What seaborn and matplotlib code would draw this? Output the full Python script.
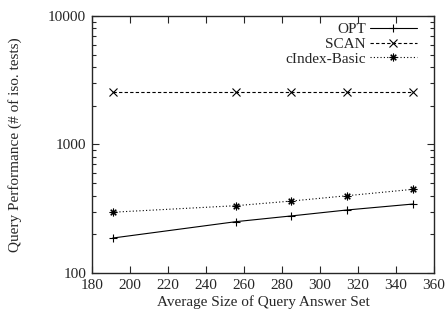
import numpy as np
import pandas as pd
import seaborn as sns
import matplotlib.pyplot as plt
from matplotlib.ticker import FixedLocator, FixedFormatter, LogLocator, NullFormatter

# data
answer_size = [191, 256, 285, 314, 349]
opt = [187, 251, 278, 309, 344]
scan = [2560, 2560, 2560, 2560, 2560]
cindex_basic = [297, 334, 363, 399, 448]

sns.set_style('ticks')
plt.rcParams['font.family'] = ['Liberation Serif', 'DejaVu Serif']
plt.rcParams['font.size'] = 11

fig = plt.figure(figsize=(4.48, 3.2), dpi=100)
ax = fig.add_axes([0.205, 0.147, 0.764, 0.803])

series = [
    ('OPT', opt, '-', '+'),
    ('SCAN', scan, (0, (3, 2)), 'x'),
    ('cIndex-Basic', cindex_basic, (0, (1, 2)), (8, 2, 0)),
]
for name, vals, ls, mk in series:
    df = pd.DataFrame({'x': answer_size, 'y': vals})
    sns.lineplot(data=df, x='x', y='y', ax=ax, color='black', linewidth=0.8,
                 linestyle=ls, marker=mk, markersize=5.5, markeredgewidth=0.8,
                 markeredgecolor='black', label=name)

ax.set_yscale('log')
ax.set_xlim(180, 360)
ax.set_ylim(100, 10000)
ax.xaxis.set_major_locator(FixedLocator(np.arange(180, 361, 20)))
ax.yaxis.set_major_locator(FixedLocator([100, 1000, 10000]))
ax.yaxis.set_major_formatter(FixedFormatter(['100', '1000', '10000']))
ax.yaxis.set_minor_locator(LogLocator(base=10, subs=np.arange(2, 10)))
ax.yaxis.set_minor_formatter(NullFormatter())
ax.tick_params(which='both', direction='in', top=True, right=True, width=0.8)
ax.tick_params(which='major', length=5, pad=4)
ax.tick_params(which='minor', length=3)
for s in ax.spines.values():
    s.set_linewidth(1.0)

ax.set_xlabel('Average Size of Query Answer Set', labelpad=3)
ax.set_ylabel('Query Performance (# of iso. tests)', labelpad=19)

leg = ax.legend(loc='upper right', bbox_to_anchor=(0.95, 0.974), frameon=False,
                markerfirst=False, handlelength=3.08, labelspacing=0.06,
                borderaxespad=0, borderpad=0, handletextpad=0.26)
# right-align the legend rows like gnuplot
for col in leg._legend_box.get_children()[1].get_children():
    col.align = 'right'

fig.savefig('out.png', dpi=100)
